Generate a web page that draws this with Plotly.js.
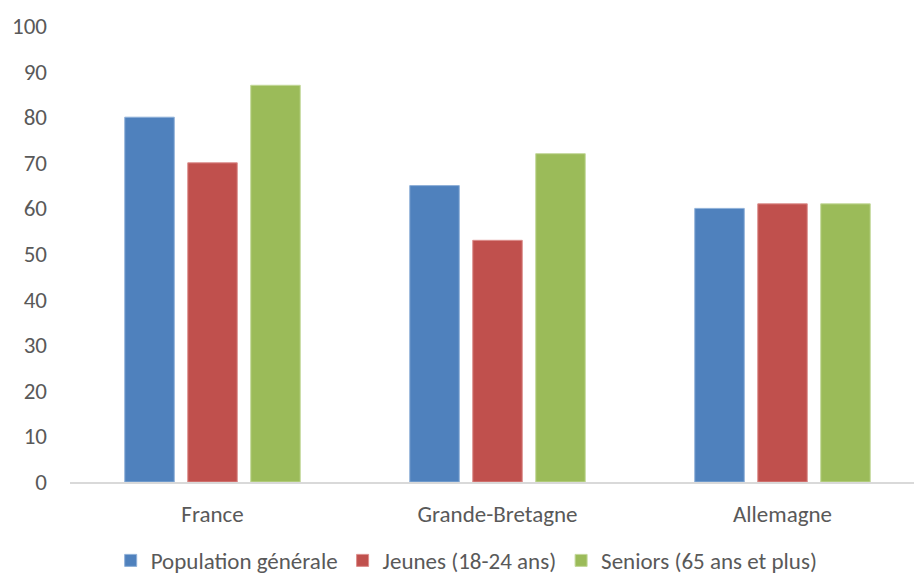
<!DOCTYPE html>
<html>
<head>
<meta charset="utf-8">
<script src="https://cdn.plot.ly/plotly-3.0.1.min.js"></script>
<style>html,body{margin:0;padding:0;background:#fff;}#chart{width:914px;height:578px;}</style>
</head>
<body>
<div id="chart"></div>
<script>
const categories = ["France", "Grande-Bretagne", "Allemagne"];
const seriesNames = ["Population générale", "Jeunes (18-24 ans)", "Seniors (65 ans et plus)"];
const populationGenerale = [80, 65, 60];
const jeunes = [70, 53, 61];
const seniors = [87, 72, 61];
const yTicks = [0, 10, 20, 30, 40, 50, 60, 70, 80, 90, 100];

const colors = ["#4F81BD", "#C0504D", "#9BBB59"];
const lineColors = ["#8FB0D8", "#DC8E8C", "#C3D89A"];
const values = [populationGenerale, jeunes, seniors];

const traces = values.map((v, i) => ({
  type: "bar",
  name: seriesNames[i],
  x: categories,
  y: v,
  marker: {color: colors[i], line: {color: lineColors[i], width: 1}},
  hoverinfo: "skip"
}));

const font = {family: "Carlito, Calibri, 'Open Sans', 'Noto Sans', sans-serif", size: 23, color: "#595959"};

const layout = {
  width: 914, height: 578,
  margin: {l: 70, r: 0, t: 26, b: 96, autoexpand: false},
  paper_bgcolor: "#fff", plot_bgcolor: "#fff",
  font: font,
  barmode: "group",
  bargap: 0.337,
  bargroupgap: 0.214,
  showlegend: true,
  legend: {
    orientation: "h", x: 0.47, xanchor: "center", y: -0.172, yanchor: "middle",
    font: font, itemwidth: 30, tracegroupgap: 0
  },
  xaxis: {
    type: "category",
    range: [-0.5, 2.4614],
    showline: true, linecolor: "#D9D9D9", linewidth: 2,
    showgrid: false, zeroline: false,
    ticks: "", ticklabelstandoff: 10,
    tickfont: font
  },
  yaxis: {
    range: [0, 100],
    tickvals: yTicks,
    ticktext: yTicks.map(String),
    showline: false, showgrid: false, zeroline: false,
    ticks: "", ticklabelstandoff: 22,
    tickfont: font
  }
};

Plotly.newPlot("chart", traces, layout, {staticPlot: true, displayModeBar: false});
</script>
</body>
</html>
